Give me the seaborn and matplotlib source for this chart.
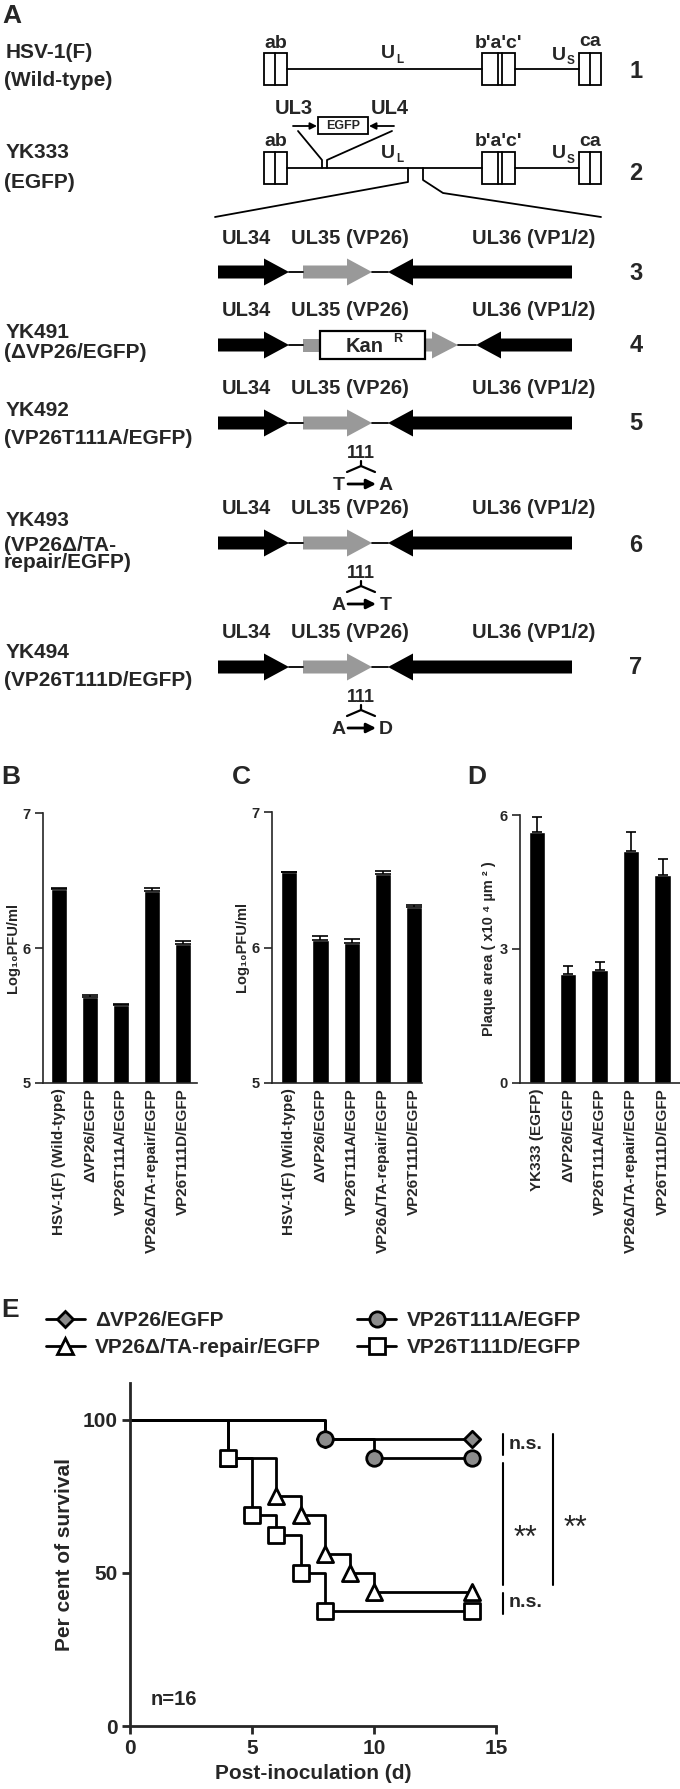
import numpy as np
import matplotlib
matplotlib.use('Agg')
import matplotlib.pyplot as plt
from matplotlib.patches import Polygon, Rectangle
from matplotlib.lines import Line2D
import seaborn as sns

# ---------------- data ----------------
strain_names = ['HSV-1(F)', 'YK333', '', 'YK491', 'YK492', 'YK493', 'YK494']
strain_notes = ['(Wild-type)', '(EGFP)', '', '(ΔVP26/EGFP)', '(VP26T111A/EGFP)',
                '(VP26Δ/TA-\nrepair/EGFP)', '(VP26T111D/EGFP)']
row_numbers = ['1', '2', '3', '4', '5', '6', '7']
gene_labels = ['UL34', 'UL35 (VP26)', 'UL36 (VP1/2)']
repeat_labels = ['ab', "b'a'c'", 'ca']
mut_from = ['T', 'A', 'A']
mut_to = ['A', 'T', 'D']
mut_site = '111'

titer_names = ['HSV-1(F) (Wild-type)', 'ΔVP26/EGFP', 'VP26T111A/EGFP',
               'VP26Δ/TA-repair/EGFP', 'VP26T111D/EGFP']
titer_b = [6.44, 5.635, 5.58, 6.42, 6.03]
titer_b_err = [0.005, 0.015, 0.004, 0.027, 0.025]
titer_c = [6.556, 6.055, 6.03, 6.54, 6.30]
titer_c_err = [0.004, 0.03, 0.03, 0.025, 0.015]

plaque_names = ['YK333 (EGFP)', 'ΔVP26/EGFP', 'VP26T111A/EGFP',
                'VP26Δ/TA-repair/EGFP', 'VP26T111D/EGFP']
plaque_area = [5.62, 2.43, 2.54, 5.20, 4.66]
plaque_err = [0.33, 0.20, 0.17, 0.41, 0.35]

days_dvp26 = [0, 8, 14]
surv_dvp26 = [100, 93.75, 93.75]
days_t111a = [0, 8, 10, 14]
surv_t111a = [100, 93.75, 87.5, 87.5]
days_repair = [0, 4, 6, 7, 8, 9, 10, 14]
surv_repair = [100, 87.5, 75, 68.75, 56.25, 50, 43.75, 43.75]
days_t111d = [0, 4, 5, 6, 7, 8, 14]
surv_t111d = [100, 87.5, 68.75, 62.5, 50, 37.5, 37.5]

# ---------------- style ----------------
sns.set_style('ticks')
plt.rcParams['font.family'] = ['Liberation Sans', 'DejaVu Sans']
plt.rcParams['font.weight'] = 'bold'
plt.rcParams['axes.labelweight'] = 'bold'
GRAY = '#999999'

fig = plt.figure(figsize=(6.8, 17.89), dpi=100)

# overlay in pixel coordinates for the schematic (panel A) and panel letters
ov = fig.add_axes([0, 0, 1, 1])
ov.set_xlim(0, 680)
ov.set_ylim(1789, 0)
ov.axis('off')


def right_arrow(x0, x1, y, color, hl=25, bh=6.5, hh=13.5):
    pts = [(x0, y - bh), (x1 - hl, y - bh), (x1 - hl, y - hh), (x1, y),
           (x1 - hl, y + hh), (x1 - hl, y + bh), (x0, y + bh)]
    ov.add_patch(Polygon(pts, closed=True, fc=color, ec='none'))


def left_arrow(x_tip, x_tail, y, color, hl=25, bh=6.5, hh=13.5):
    pts = [(x_tail, y - bh), (x_tip + hl, y - bh), (x_tip + hl, y - hh), (x_tip, y),
           (x_tip + hl, y + hh), (x_tip + hl, y + bh), (x_tail, y + bh)]
    ov.add_patch(Polygon(pts, closed=True, fc=color, ec='none'))


def genome(y):
    ov.plot([287, 482], [y, y], color='k', lw=1.3)
    ov.plot([515, 579], [y, y], color='k', lw=1.3)
    for (x0, x1, divs, lab, dy) in [(264, 287, [275], repeat_labels[0], 26),
                                    (482, 515, [498, 502], repeat_labels[1], 26),
                                    (579, 601, [590], repeat_labels[2], 27)]:
        ov.add_patch(Rectangle((x0, y - 16), x1 - x0, 32, fc='white', ec='k', lw=1.3))
        for d in divs:
            ov.plot([d, d], [y - 16, y + 16], color='k', lw=1.3)
        ov.text((x0 + x1) / 2, y - dy, lab, ha='center', va='center', fontsize=14)
    ov.text(388, y - 15, 'U', ha='center', va='center', fontsize=14)
    ov.text(400, y - 9, 'L', ha='center', va='center', fontsize=8.5)
    ov.text(559, y - 14, 'U', ha='center', va='center', fontsize=14)
    ov.text(571, y - 8, 'S', ha='center', va='center', fontsize=8.5)


def gene_row(y, kan=False):
    right_arrow(218, 289, y, 'k')
    ov.plot([289, 303], [y, y], color='k', lw=1.3)
    if not kan:
        right_arrow(303, 372, y, GRAY)
        ov.plot([372, 388], [y, y], color='k', lw=1.3)
        left_arrow(388, 572, y, 'k')
    else:
        ov.add_patch(Rectangle((303, y - 6.5), 20, 13, fc=GRAY, ec='none'))
        right_arrow(423, 458, y, GRAY, hl=26)
        ov.add_patch(Rectangle((320, y - 14), 105, 28, fc='white', ec='k', lw=1.6))
        ov.text(365, y + 1, 'Kan', ha='center', va='center', fontsize=14.5)
        ov.text(398, y - 6, 'R', ha='center', va='center', fontsize=9)
        ov.plot([458, 476], [y, y], color='k', lw=1.3)
        left_arrow(476, 572, y, 'k')
    for xc, lab in zip([246, 350, 534], gene_labels):
        ov.text(xc, y - 34, lab, ha='center', va='center', fontsize=14.5)


def mutation(y, a, b):
    ov.text(361, y + 30, mut_site, ha='center', va='center', fontsize=13)
    ov.plot([361, 361], [y + 38, y + 43], color='k', lw=1.6)
    ov.plot([347, 361, 375], [y + 49, y + 43, y + 49], color='k', lw=1.6)
    ov.text(339, y + 62, a, ha='center', va='center', fontsize=14)
    ov.text(386, y + 62, b, ha='center', va='center', fontsize=14)
    ov.annotate('', xy=(376, y + 61), xytext=(348, y + 61),
                arrowprops=dict(arrowstyle='-|>', color='k', lw=2, mutation_scale=14,
                                shrinkA=0, shrinkB=0))


# panel A
ov.text(2, 16, 'A', ha='left', va='center', fontsize=19)
genome_y = [69, 168]
gene_y = [272, 345, 423, 543, 667]
name_y = [52, 152, None, 332, 410, 520, 653]
note_y = [80, 183, None, 353, 438, 554, 680]
number_y = [72, 173, 273, 345, 423, 545, 667]

for gy in genome_y:
    genome(gy)
for i, gy in enumerate(gene_y):
    gene_row(gy, kan=(i == 1))
for k, gy in enumerate(gene_y[2:]):
    mutation(gy, mut_from[k], mut_to[k])

for i in range(7):
    if strain_names[i]:
        ov.text(6, name_y[i], strain_names[i], ha='left', va='center', fontsize=15)
        ov.text(4, note_y[i], strain_notes[i], ha='left', va='center', fontsize=15,
                linespacing=0.85)
    ov.text(636, number_y[i], row_numbers[i], ha='center', va='center', fontsize=17)

# EGFP insertion on YK333
ov.text(294, 108, 'UL3', ha='center', va='center', fontsize=14.5)
ov.text(390, 108, 'UL4', ha='center', va='center', fontsize=14.5)
ov.add_patch(Rectangle((318, 117), 50, 17, fc='white', ec='k', lw=1.3))
ov.text(343, 126, 'EGFP', ha='center', va='center', fontsize=9)
ov.annotate('', xy=(317, 126), xytext=(293, 126),
            arrowprops=dict(arrowstyle='-|>', color='k', lw=1.3, mutation_scale=10,
                            shrinkA=0, shrinkB=0))
ov.annotate('', xy=(369, 126), xytext=(394, 126),
            arrowprops=dict(arrowstyle='-|>', color='k', lw=1.3, mutation_scale=10,
                            shrinkA=0, shrinkB=0))
ov.plot([298, 322, 322], [131, 160, 168], color='k', lw=1.3)
ov.plot([392, 327, 327], [131, 160, 168], color='k', lw=1.3)
# zoom-out lines to the UL34-UL36 region
ov.plot([408, 408, 215], [168, 182, 217], color='k', lw=1.3)
ov.plot([423, 423, 443, 601], [168, 180, 193, 217], color='k', lw=1.3)

# panel letters
ov.text(1, 777, 'B', ha='left', va='center', fontsize=19)
ov.text(232, 777, 'C', ha='left', va='center', fontsize=19)
ov.text(467, 777, 'D', ha='left', va='center', fontsize=19)
ov.text(1, 1310, 'E', ha='left', va='center', fontsize=19)


# ---------------- bar panels ----------------
def bars(rect, names, vals, errs, ylim, ticks, ylabel, capsize, xlim, lab_size):
    ax = fig.add_axes(rect)
    sns.barplot(x=names, y=vals, color='black', width=0.52, errorbar=None,
                saturation=1, ax=ax)
    ax.errorbar(np.arange(len(vals)), vals, yerr=[np.zeros(len(vals)), errs],
                fmt='none', ecolor='k', elinewidth=1.2, capsize=capsize, capthick=1.2)
    ax.set_ylim(ylim)
    ax.set_yticks(ticks)
    ax.set_xlim(xlim)
    sns.despine(ax=ax)
    for s in ['left', 'bottom']:
        ax.spines[s].set_linewidth(1.2)
    ax.set_xticks(range(len(names)))
    ax.set_xticklabels(names, rotation=90, fontsize=11)
    ax.tick_params(axis='x', length=0, pad=4)
    ax.tick_params(axis='y', length=6, width=1.2, pad=3, labelsize=10.5)
    ax.set_ylabel(ylabel, fontsize=lab_size, labelpad=2)
    ax.set_xlabel('')
    return ax


bars([43 / 680, (1789 - 1083) / 1789, 154 / 680, 270 / 1789], titer_names, titer_b,
     titer_b_err, (5, 7), [5, 6, 7], 'Log₁₀PFU/ml', 5.5, (-0.52, 4.45), 10.5)
bars([272 / 680, (1789 - 1083) / 1789, 150 / 680, 271 / 1789], titer_names, titer_c,
     titer_c_err, (5, 7), [5, 6, 7], 'Log₁₀PFU/ml', 5.5, (-0.55, 4.25), 10.5)
bars([520 / 680, (1789 - 1083) / 1789, 160 / 680, 268 / 1789], plaque_names, plaque_area,
     plaque_err, (0, 6), [0, 3, 6], 'Plaque area ( x10 ⁴ µm ² )', 3.6, (-0.53, 4.55), 10.5)

# ---------------- survival panel ----------------
axe = fig.add_axes([130 / 680, (1789 - 1726) / 1789, 366 / 680, 343 / 1789])
groups = [
    (days_dvp26, surv_dvp26, 'D', 70, '#8c8c8c'),
    (days_t111a, surv_t111a, 'o', 125, '#8c8c8c'),
    (days_repair, surv_repair, '^', 135, 'white'),
    (days_t111d, surv_t111d, 's', 125, 'white'),
]
for days, surv, mk, size, face in groups:
    sns.lineplot(x=days, y=surv, drawstyle='steps-post', color='k', lw=2,
                 estimator=None, sort=False, ax=axe)
for days, surv, mk, size, face in groups:
    sns.scatterplot(x=days[1:], y=surv[1:], marker=mk, s=size, color=face,
                    edgecolor='k', linewidth=2, zorder=3, ax=axe)

axe.set_xlim(0, 15)
axe.set_ylim(0, 112)
axe.set_xticks([0, 5, 10, 15])
axe.set_yticks([0, 50, 100])
sns.despine(ax=axe)
for s in ['left', 'bottom']:
    axe.spines[s].set_linewidth(2)
axe.tick_params(width=2, length=6, labelsize=15, pad=3)
axe.set_xlabel('Post-inoculation (d)', fontsize=15, labelpad=5)
axe.set_ylabel('Per cent of survival', fontsize=15, labelpad=6)
axe.text(0.85, 8.5, 'n=16', ha='left', va='center', fontsize=14.5)

# significance marks
x1, x2 = 15.3, 17.35
for xs, y0, y1 in [(x1, 95.5, 88.5), (x1, 86, 46), (x2, 95.5, 46), (x1, 43.5, 36.5)]:
    axe.plot([xs, xs], [y0, y1], color='k', lw=1.5, clip_on=False)
axe.text(15.5, 91.8, 'n.s.', ha='left', va='center', fontsize=14)
axe.text(15.5, 40.3, 'n.s.', ha='left', va='center', fontsize=14)
axe.text(16.2, 61, '**', ha='center', va='center', fontsize=22, fontweight='normal')
axe.text(18.25, 64.5, '**', ha='center', va='center', fontsize=22, fontweight='normal')

# legend
leg_labels = ['ΔVP26/EGFP', 'VP26Δ/TA-repair/EGFP', 'VP26T111A/EGFP', 'VP26T111D/EGFP']
leg_style = [('D', 8.5, '#8c8c8c'), ('^', 11.5, 'white'), ('o', 11, '#8c8c8c'), ('s', 11, 'white')]
handles = [Line2D([], [], color='k', lw=2, marker=m, markersize=ms, markerfacecolor=fc,
                  markeredgecolor='k', markeredgewidth=2) for m, ms, fc in leg_style]
fig.legend(handles, leg_labels, loc='upper left', bbox_to_anchor=(46 / 680, 1 - 1311 / 1789),
           ncol=2, frameon=False, fontsize=15, handlelength=1.85, handletextpad=0.5,
           columnspacing=1.75, labelspacing=0.4, borderpad=0, borderaxespad=0)

fig.savefig('out.png', dpi=100)
